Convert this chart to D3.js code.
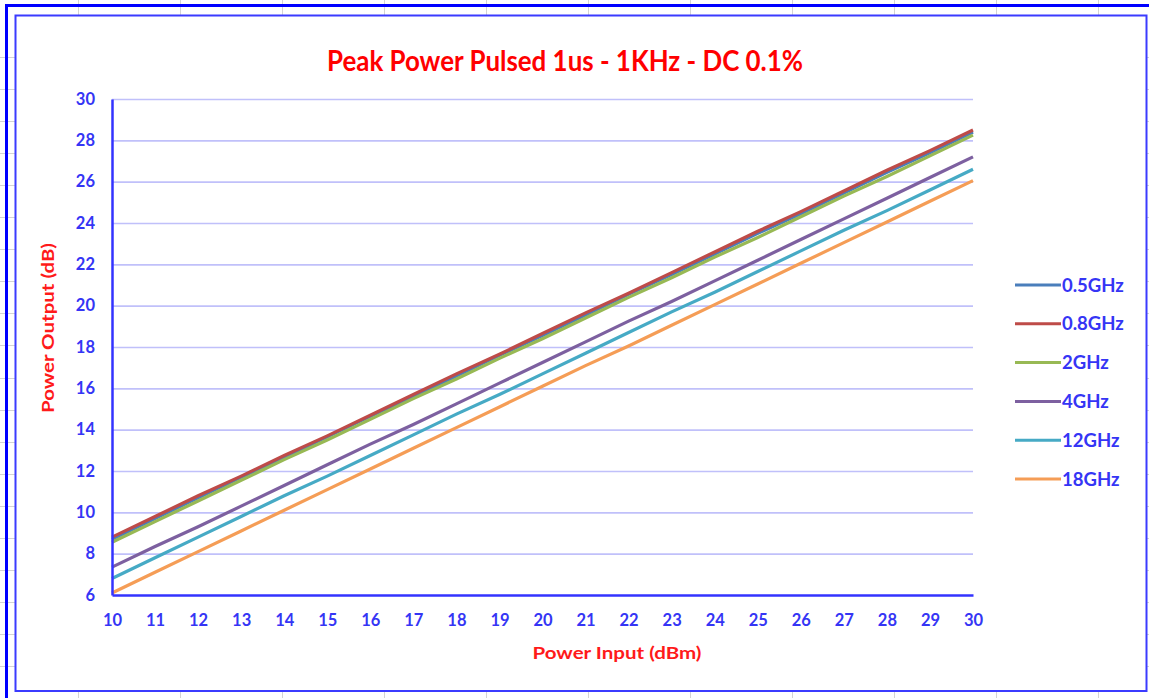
<!DOCTYPE html>
<html>
<head>
<meta charset="utf-8">
<script src="https://cdn.jsdelivr.net/npm/d3@7"></script>
<style>
  html, body { margin: 0; padding: 0; background: #ffffff; }
  svg { display: block; }
</style>
</head>
<body>
<svg id="chart" width="1149" height="698"></svg>
<script>
// ---------------- DATA ----------------
const powerInput = [10,11,12,13,14,15,16,17,18,19,20,21,22,23,24,25,26,27,28,29,30];
const seriesNames = ["0.5GHz","0.8GHz","2GHz","4GHz","12GHz","18GHz"];
const out05GHz = [8.7,9.7,10.7,11.7,12.65,13.65,14.65,15.6,16.6,17.6,18.55,19.55,20.55,21.5,22.5,23.5,24.45,25.45,26.45,27.4,28.4];
const out08GHz = [8.8,9.8,10.8,11.75,12.75,13.7,14.7,15.7,16.7,17.65,18.65,19.65,20.6,21.6,22.6,23.6,24.55,25.55,26.55,27.5,28.5];
const out2GHz  = [8.55,9.55,10.55,11.55,12.55,13.5,14.5,15.5,16.45,17.45,18.4,19.4,20.4,21.35,22.35,23.3,24.3,25.3,26.25,27.25,28.25];
const out4GHz  = [7.35,8.35,9.3,10.3,11.3,12.3,13.3,14.25,15.25,16.25,17.25,18.25,19.25,20.2,21.2,22.2,23.2,24.2,25.2,26.2,27.2];
const out12GHz = [6.8,7.8,8.8,9.8,10.8,11.75,12.75,13.75,14.75,15.7,16.7,17.7,18.7,19.7,20.65,21.65,22.65,23.65,24.6,25.6,26.6];
const out18GHz = [6.1,7.1,8.1,9.1,10.1,11.1,12.1,13.1,14.1,15.1,16.1,17.1,18.05,19.05,20.05,21.05,22.05,23.05,24.05,25.05,26.05];
const xTicks = [10,11,12,13,14,15,16,17,18,19,20,21,22,23,24,25,26,27,28,29,30];
const yTicks = [6,8,10,12,14,16,18,20,22,24,26,28,30];
const seriesColors = ["#4a7ebb","#be4b48","#98b954","#7d60a0","#46aac5","#f59d56"];

const allSeries = [out05GHz, out08GHz, out2GHz, out4GHz, out12GHz, out18GHz];

// ---------------- DRAWING ----------------
const svg = d3.select("#chart");
const W = 1149, H = 698;

// spreadsheet cell grid (background)
const cellG = svg.append("g");
const colXs = d3.range(78, W, 102);
const rowYs = d3.range(57, H, 32.05);
cellG.selectAll("line.col").data(colXs).join("line")
  .attr("x1", d => d + 0.5).attr("x2", d => d + 0.5)
  .attr("y1", 0).attr("y2", H)
  .attr("stroke", "#d4d4d4").attr("stroke-width", 1);
cellG.selectAll("line.row").data(rowYs).join("line")
  .attr("x1", 0).attr("x2", W)
  .attr("y1", d => Math.round(d) + 0.5).attr("y2", d => Math.round(d) + 0.5)
  .attr("stroke", "#d4d4d4").attr("stroke-width", 1);

// chart area
svg.append("rect")
  .attr("x", 15.5).attr("y", 15.5).attr("width", 1131).attr("height", 675.5)
  .attr("fill", "#ffffff").attr("stroke", "#3b3bff").attr("stroke-width", 2);

// outer thick selection frame (left/top)
svg.append("path")
  .attr("d", `M6.5,${H} L6.5,5.5 L${W},5.5`)
  .attr("fill", "none").attr("stroke", "#0000ff").attr("stroke-width", 3);

const margin = { left: 112, right: 973, top: 99, bottom: 595 };
const x = d3.scaleLinear().domain([10, 30]).range([margin.left, margin.right]);
const y = d3.scaleLinear().domain([6, 30]).range([margin.bottom, margin.top]);

const axisBlue = "#3333ff";
const labelBlue = "#3535f5";
const fontFam = "Lato, 'Open Sans', 'DejaVu Sans', sans-serif";

// horizontal gridlines
svg.append("g")
  .attr("transform", `translate(${margin.left},0)`)
  .call(d3.axisLeft(y).tickValues(yTicks.filter(v => v !== 6)).tickSize(-(margin.right - margin.left)).tickFormat(""))
  .call(g => g.select(".domain").remove())
  .call(g => g.selectAll("line").attr("stroke", "#c0c0fa").attr("stroke-width", 1.6));

// series lines
const line = d3.line().x((d, i) => x(powerInput[i])).y(d => y(d));
svg.append("g").selectAll("path").data(allSeries).join("path")
  .attr("d", d => line(d))
  .attr("fill", "none")
  .attr("stroke", (d, i) => seriesColors[i])
  .attr("stroke-width", 3.2)
  .attr("stroke-linejoin", "round");

// y axis
const yAxisG = svg.append("g")
  .attr("transform", `translate(${margin.left},0)`)
  .call(d3.axisLeft(y).tickValues(yTicks).tickSize(0).tickPadding(17).tickFormat(d3.format("d")));
yAxisG.select(".domain").attr("stroke", axisBlue).attr("stroke-width", 2.5);
yAxisG.selectAll("text")
  .attr("fill", labelBlue).attr("font-family", fontFam).attr("font-weight", "bold").attr("font-size", "16.5px");

// x axis
const xAxisG = svg.append("g")
  .attr("transform", `translate(0,${margin.bottom})`)
  .call(d3.axisBottom(x).tickValues(xTicks).tickSize(0).tickPadding(19).tickFormat(d3.format("d")));
xAxisG.select(".domain").attr("stroke", axisBlue).attr("stroke-width", 2.5);
xAxisG.selectAll("text")
  .attr("fill", labelBlue).attr("font-family", fontFam).attr("font-weight", "bold").attr("font-size", "16.5px");

// title
svg.append("text")
  .attr("x", 565).attr("y", 71)
  .attr("text-anchor", "middle")
  .attr("fill", "#ff0000").attr("font-family", fontFam).attr("font-weight", "bold").attr("font-size", "28px")
  .attr("textLength", 476).attr("lengthAdjust", "spacingAndGlyphs")
  .text("Peak Power Pulsed 1us - 1KHz - DC 0.1%");

// axis titles
svg.append("text")
  .attr("x", 617).attr("y", 659)
  .attr("text-anchor", "middle")
  .attr("fill", "#ff1a1a").attr("font-family", fontFam).attr("font-weight", "bold").attr("font-size", "17.5px")
  .attr("textLength", 169).attr("lengthAdjust", "spacingAndGlyphs")
  .text("Power Input (dBm)");
svg.append("text")
  .attr("transform", "translate(54,328) rotate(-90)")
  .attr("text-anchor", "middle")
  .attr("fill", "#ff1a1a").attr("font-family", fontFam).attr("font-weight", "bold").attr("font-size", "17.5px")
  .attr("textLength", 170).attr("lengthAdjust", "spacingAndGlyphs")
  .text("Power Output (dB)");

// legend
const legY = d3.scalePoint().domain(seriesNames).range([285, 479]);
const leg = svg.append("g").selectAll("g").data(seriesNames).join("g")
  .attr("transform", d => `translate(0,${legY(d)})`);
leg.append("line")
  .attr("x1", 1015).attr("x2", 1061).attr("y1", 0).attr("y2", 0)
  .attr("stroke", (d, i) => seriesColors[i]).attr("stroke-width", 3);
leg.append("text")
  .attr("x", 1062).attr("y", 0).attr("dy", "0.36em")
  .attr("fill", labelBlue).attr("font-family", fontFam).attr("font-weight", "bold").attr("font-size", "18.5px")
  .text(d => d);
</script>
</body>
</html>
